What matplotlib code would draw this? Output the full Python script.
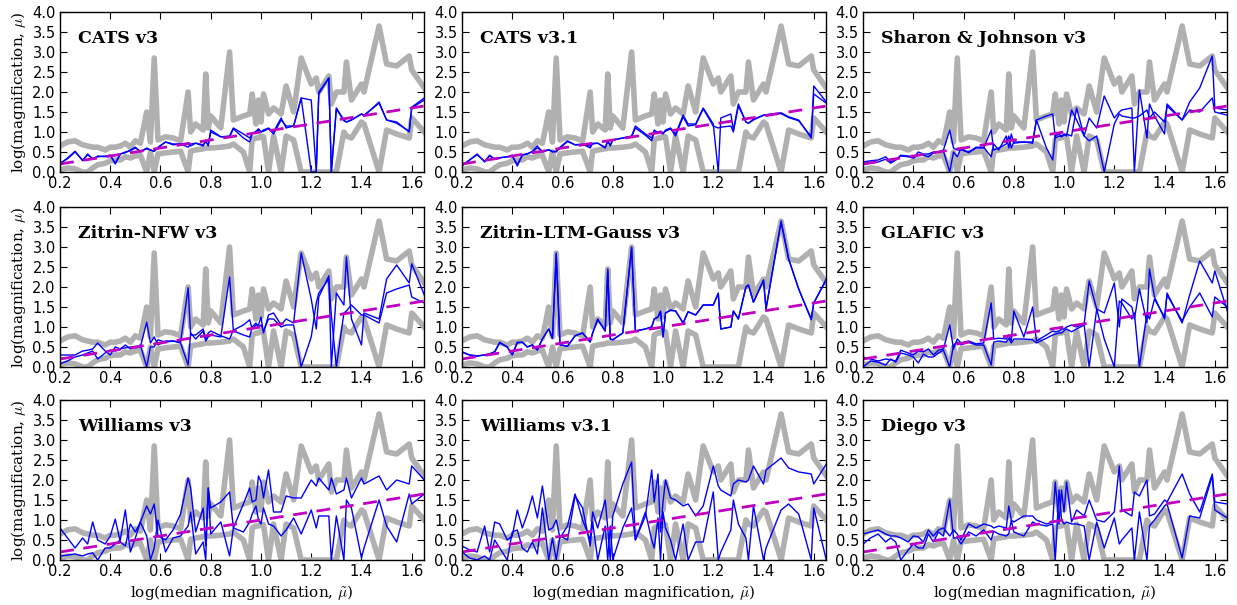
import numpy as np
import matplotlib
matplotlib.use('Agg')
import matplotlib.pyplot as plt

plt.rcParams['mathtext.fontset'] = 'cm'

# common x grid: log(median magnification)
x = [0.20, 0.23, 0.26, 0.29, 0.31, 0.33, 0.35, 0.38, 0.40, 0.42,
     0.44, 0.46, 0.48, 0.50, 0.52, 0.545, 0.56, 0.575, 0.59, 0.62,
     0.65, 0.68, 0.71, 0.72, 0.74, 0.77, 0.78, 0.79, 0.80, 0.84,
     0.875, 0.89, 0.93, 0.955, 0.965, 0.98, 0.99, 1.00, 1.01, 1.03,
     1.05, 1.08, 1.10, 1.13, 1.16, 1.20, 1.22, 1.23, 1.27, 1.28,
     1.30, 1.33, 1.34, 1.36, 1.40, 1.41, 1.47, 1.50, 1.54, 1.59,
     1.60, 1.65]

# grey envelope (same in every panel)
grey_hi = [0.65, 0.75, 0.78, 0.68, 0.65, 0.62, 0.62, 0.55, 0.62, 0.62,
           0.65, 0.72, 0.62, 0.78, 0.72, 1.5, 0.75, 2.85, 0.8, 0.88,
           0.85, 0.78, 2.0, 1.0, 1.2, 1.05, 2.45, 1.1, 1.4, 1.1,
           3.0, 1.3, 1.4, 1.45, 1.95, 1.2, 1.8, 1.25, 1.95, 1.45,
           1.6, 1.45, 2.15, 1.5, 2.85, 2.2, 2.35, 2.0, 2.4, 1.7,
           2.0, 2.0, 2.75, 1.8, 2.2, 2.0, 3.65, 2.7, 2.65, 2.9,
           2.55, 2.1]
grey_lo = [0.05, 0.1, 0.08, 0.0, 0.0, 0.1, 0.18, 0.22, 0.28, 0.3,
           0.3, 0.38, 0.35, 0.4, 0.42, 0.0, 0.5, 0.0, 0.45, 0.48,
           0.5, 0.52, 0.0, 0.52, 0.55, 0.58, 0.6, 0.6, 0.6, 0.62,
           0.65, 0.7, 0.5, 0.0, 0.8, 0.85, 0.85, 0.9, 0.88, 0.0,
           0.9, 0.0, 0.9, 0.8, 0.0, 0.0, 0.0, 0.0, 0.0, 0.0,
           0.0, 1.0, 0.9, 0.85, 1.25, 1.2, 0.0, 1.05, 0.95, 0.85,
           1.35, 1.0]

names = ['CATS v3', 'CATS v3.1', 'Sharon & Johnson v3',
         'Zitrin-NFW v3', 'Zitrin-LTM-Gauss v3', 'GLAFIC v3',
         'Williams v3', 'Williams v3.1', 'Diego v3']

cats3_a = [0.2, 0.35, 0.52, 0.28, 0.45, 0.32, 0.4, 0.38, 0.42, 0.2,
           0.45, 0.48, 0.55, 0.62, 0.5, 0.6, 0.55, 0.52, 0.6, 0.75,
           0.68, 0.7, 0.72, 0.65, 0.72, 0.65, 0.8, 0.65, 1.05, 0.88,
           0.9, 1.1, 0.95, 0.85, 0.95, 1.0, 1.08, 1.0, 1.05, 1.1,
           1.0, 1.35, 1.1, 1.15, 1.85, 1.8, 0.0, 2.0, 2.35, 0.0,
           1.6, 1.3, 1.25, 1.3, 1.45, 1.4, 1.75, 1.3, 1.25, 1.0,
           1.6, 1.8]
cats3_b = [0.22, 0.33, 0.5, 0.3, 0.43, 0.34, 0.38, 0.4, 0.42, 0.22,
           0.45, 0.5, 0.53, 0.6, 0.52, 0.58, 0.55, 0.52, 0.62, 0.75,
           0.7, 0.7, 0.62, 0.7, 0.72, 0.68, 0.75, 0.68, 1.0, 0.88,
           0.88, 1.08, 0.85, 0.75, 0.95, 1.02, 1.05, 1.0, 1.02, 1.08,
           0.95, 1.3, 1.15, 1.15, 1.85, 0.0, 0.0, 1.95, 2.35, 0.0,
           1.58, 1.28, 1.25, 1.3, 1.45, 1.42, 1.72, 1.3, 1.22, 1.02,
           1.62, 1.85]

cats31_a = [0.15, 0.3, 0.45, 0.25, 0.42, 0.32, 0.35, 0.38, 0.42, 0.15,
            0.42, 0.45, 0.52, 0.65, 0.5, 0.55, 0.52, 0.5, 0.62, 0.78,
            0.68, 0.68, 0.65, 0.7, 0.72, 0.6, 0.78, 0.65, 0.8, 0.85,
            0.9, 1.15, 0.95, 0.85, 1.05, 0.98, 1.0, 0.95, 1.05, 1.1,
            0.95, 1.42, 1.2, 1.2, 1.6, 1.2, 0.0, 1.35, 1.45, 1.05,
            1.7, 1.25, 1.22, 1.3, 1.42, 1.43, 1.48, 1.38, 1.3, 0.85,
            2.15, 1.75]
cats31_b = [0.17, 0.3, 0.43, 0.27, 0.4, 0.33, 0.36, 0.38, 0.4, 0.18,
            0.43, 0.46, 0.5, 0.6, 0.52, 0.56, 0.5, 0.52, 0.6, 0.76,
            0.68, 0.7, 0.6, 0.72, 0.72, 0.62, 0.75, 0.68, 0.8, 0.85,
            0.88, 1.1, 0.92, 0.78, 1.0, 1.0, 1.02, 0.98, 1.02, 1.08,
            0.9, 1.38, 1.15, 1.18, 1.58, 1.15, 1.1, 1.12, 1.15, 1.0,
            1.65, 1.25, 1.22, 1.32, 1.42, 1.43, 1.46, 1.36, 1.28, 0.88,
            1.95, 1.72]

sharon_a = [0.25, 0.28, 0.3, 0.38, 0.25, 0.3, 0.42, 0.4, 0.35, 0.5,
            0.45, 0.45, 0.5, 0.5, 0.55, 1.05, 0.6, 0.55, 0.55, 0.5,
            0.62, 0.62, 0.38, 0.7, 0.55, 0.9, 0.6, 0.95, 0.72, 0.75,
            0.75, 1.3, 1.4, 1.45, 0.85, 0.9, 0.88, 0.92, 0.95, 0.9,
            1.6, 0.9, 1.35, 1.1, 1.9, 1.35, 1.5, 1.55, 1.6, 0.0,
            2.05, 0.85, 1.7, 1.4, 0.95, 1.7, 1.3, 1.75, 2.1, 2.9,
            1.6, 1.55]
sharon_b = [0.2, 0.22, 0.25, 0.32, 0.22, 0.3, 0.4, 0.38, 0.35, 0.42,
            0.42, 0.38, 0.48, 0.5, 0.52, 0.0, 0.5, 0.38, 0.6, 0.48,
            0.6, 0.6, 1.05, 0.55, 0.6, 0.7, 0.9, 0.6, 0.75, 0.75,
            0.72, 1.3, 0.6, 0.3, 0.9, 0.95, 0.9, 0.95, 0.9, 1.55,
            1.3, 0.9, 0.78, 0.9, 0.0, 1.2, 1.45, 1.4, 1.35, 1.35,
            1.4, 1.55, 1.35, 1.5, 1.25, 1.65, 1.3, 1.55, 1.5, 1.85,
            1.5, 1.42]

nfw_a = [0.3, 0.3, 0.3, 0.4, 0.42, 0.45, 0.6, 0.4, 0.3, 0.5,
         0.45, 0.55, 0.45, 0.5, 0.55, 0.0, 0.5, 0.5, 0.68, 0.62,
         0.65, 0.62, 1.98, 0.8, 0.8, 0.95, 0.7, 0.85, 0.9, 0.78,
         0.7, 0.92, 1.05, 1.18, 0.95, 1.05, 1.05, 1.25, 0.85, 1.3,
         1.35, 1.05, 1.2, 1.1, 2.85, 1.7, 0.95, 1.75, 2.28, 0.0,
         1.85, 1.55, 2.75, 1.2, 0.55, 1.35, 1.2, 2.2, 2.55, 2.1,
         2.58, 1.8]
nfw_b = [0.08, 0.15, 0.25, 0.3, 0.35, 0.4, 0.2, 0.35, 0.42, 0.4,
         0.45, 0.48, 0.5, 0.48, 0.5, 1.12, 0.6, 0.75, 0.55, 0.65,
         0.65, 0.6, 0.05, 0.85, 0.7, 0.9, 0.65, 0.75, 0.8, 0.75,
         2.25, 0.9, 0.8, 0.75, 1.0, 1.1, 1.0, 1.05, 0.9, 1.2,
         1.2, 1.0, 1.05, 1.05, 0.0, 0.75, 1.6, 1.85, 2.2, 1.3,
         0.0, 1.35, 1.4, 1.55, 1.3, 1.3, 1.1, 1.85, 1.95, 2.05,
         1.75, 1.6]

ltm_a = [0.38, 0.3, 0.27, 0.3, 0.33, 0.38, 0.62, 0.5, 0.3, 0.62,
         0.62, 0.5, 0.55, 0.42, 0.7, 0.95, 0.72, 2.85, 0.55, 0.52,
         0.78, 0.85, 0.62, 0.85, 1.2, 0.9, 2.45, 0.7, 0.68, 0.85,
         3.0, 0.9, 0.95, 1.0, 1.2, 1.25, 1.4, 0.75, 1.35, 1.42,
         1.4, 1.1, 1.38, 1.3, 1.55, 1.55, 1.85, 0.95, 1.0, 1.4,
         1.2, 2.0, 2.05, 1.62, 2.18, 1.45, 3.65, 2.7, 1.95, 1.18,
         1.6, 2.2]
ltm_b = [0.37, 0.3, 0.28, 0.3, 0.33, 0.38, 0.6, 0.5, 0.31, 0.6,
         0.62, 0.5, 0.55, 0.43, 0.7, 0.95, 0.72, 2.82, 0.56, 0.52,
         0.78, 0.85, 0.63, 0.85, 1.18, 0.9, 2.42, 0.7, 0.68, 0.85,
         2.98, 0.9, 0.95, 1.0, 1.2, 1.25, 1.38, 0.76, 1.35, 1.42,
         1.4, 1.1, 1.38, 1.3, 1.55, 1.55, 1.83, 0.95, 1.0, 1.4,
         1.2, 2.0, 2.05, 1.62, 2.16, 1.45, 3.62, 2.7, 1.95, 1.2,
         1.6, 2.18]

glafic_a = [0.25, 0.2, 0.15, 0.2, 0.18, 0.15, 0.42, 0.35, 0.3, 0.4,
            0.38, 0.45, 0.3, 0.42, 0.45, 1.05, 0.45, 0.7, 0.6, 0.65,
            0.58, 0.6, 1.6, 0.7, 0.72, 0.7, 0.8, 0.65, 1.4, 0.75,
            1.5, 0.65, 0.8, 0.9, 0.88, 0.9, 0.95, 0.95, 1.0, 1.05,
            1.0, 1.08, 2.15, 1.45, 1.35, 2.1, 1.0, 1.7, 1.5, 1.2,
            1.95, 1.1, 2.45, 1.75, 1.2, 1.85, 1.1, 1.8, 2.65, 2.1,
            2.4, 1.4]
glafic_b = [0.0, 0.15, 0.12, 0.05, 0.2, 0.12, 0.35, 0.3, 0.25, 0.1,
            0.32, 0.25, 0.25, 0.35, 0.42, 0.0, 0.55, 0.62, 0.55, 0.62,
            0.55, 0.55, 0.05, 0.62, 0.65, 0.62, 0.72, 0.6, 0.7, 0.7,
            0.68, 0.6, 0.72, 0.8, 0.82, 0.85, 0.85, 0.9, 0.95, 0.88,
            0.95, 1.05, 0.0, 1.45, 0.7, 0.0, 1.65, 1.6, 1.2, 1.35,
            0.0, 1.35, 1.2, 1.7, 1.25, 1.8, 1.15, 1.5, 1.85, 1.25,
            1.75, 1.5]

will3_a = [0.8, 0.55, 0.3, 0.55, 0.4, 0.95, 0.5, 0.4, 0.6, 1.02,
           0.45, 0.35, 0.9, 0.7, 0.95, 1.35, 1.15, 1.4, 0.6, 0.5,
           0.75, 1.15, 2.05, 1.8, 0.7, 1.3, 0.35, 1.8, 1.3, 1.45,
           1.7, 0.8, 1.4, 1.8, 1.45, 1.5, 2.1, 1.95, 1.55, 2.25,
           1.2, 1.2, 1.6, 1.55, 1.55, 2.0, 1.85, 2.05, 1.75, 2.05,
           1.65, 1.75, 2.05, 1.55, 2.05, 1.9, 2.1, 1.75, 2.0, 1.9,
           2.35, 2.0]
will3_b = [0.1, 0.12, 0.15, 0.1, 0.15, 0.18, 0.0, 0.3, 0.3, 0.4,
           0.5, 1.25, 0.2, 0.55, 0.95, 0.6, 0.0, 0.3, 1.0, 0.2,
           0.55, 0.6, 0.85, 1.2, 0.15, 0.45, 0.0, 1.8, 0.65, 0.95,
           0.1, 0.8, 0.7, 0.95, 1.15, 1.35, 1.0, 0.9, 1.3, 0.9,
           0.85, 0.6, 0.75, 1.05, 0.65, 1.25, 0.8, 1.1, 1.1, 0.0,
           1.1, 0.0, 1.5, 1.3, 0.05, 0.3, 1.5, 0.85, 0.45, 1.65,
           1.4, 1.65]

will31_a = [0.35, 0.25, 0.2, 0.85, 0.2, 0.95, 0.9, 0.5, 0.6, 1.25,
            0.8, 1.15, 1.6, 1.05, 1.85, 0.75, 0.8, 1.0, 0.55, 0.85,
            1.65, 1.0, 0.5, 1.2, 0.8, 1.5, 0.8, 0.0, 1.1, 1.9,
            2.45, 0.5, 1.1, 2.25, 1.45, 2.15, 0.7, 1.45, 2.0, 1.55,
            1.5, 1.35, 1.4, 1.1, 1.35, 2.35, 1.85, 1.75, 1.6, 1.9,
            2.0, 1.95, 2.0, 2.35, 1.9, 2.25, 2.55, 2.3, 2.2, 2.15,
            1.9, 2.4]
will31_b = [0.2, 0.05, 0.0, 0.1, 0.0, 0.5, 0.3, 0.0, 0.7, 0.75,
            0.3, 0.2, 0.45, 0.15, 1.3, 0.0, 0.55, 0.0, 0.6, 0.5,
            1.6, 1.3, 0.35, 0.95, 0.0, 0.85, 0.0, 0.85, 0.0, 0.8,
            1.3, 0.5, 1.2, 0.5, 0.3, 1.05, 0.0, 1.2, 0.8, 0.5,
            0.0, 0.9, 0.0, 0.45, 0.45, 1.7, 0.0, 0.2, 0.75, 1.5,
            0.9, 0.55, 0.0, 1.35, 0.0, 0.3, 1.25, 1.4, 1.15, 0.0,
            1.3, 0.0]

diego_a = [0.65, 0.7, 0.75, 0.65, 0.6, 0.6, 0.55, 0.45, 0.6, 0.58,
           0.45, 0.75, 0.6, 0.75, 0.8, 0.6, 0.75, 0.65, 0.5, 0.9,
           0.8, 0.9, 0.85, 0.8, 0.85, 0.8, 1.35, 1.0, 0.95, 1.1,
           1.1, 1.0, 0.9, 0.95, 1.95, 0.9, 1.75, 1.2, 1.95, 0.95,
           1.25, 1.1, 1.5, 1.0, 0.95, 1.2, 2.35, 1.25, 1.1, 1.7,
           1.6, 2.0, 1.1, 1.15, 1.5, 1.45, 2.15, 1.65, 1.2, 2.15,
           1.45, 1.4]
diego_b = [0.4, 0.55, 0.65, 0.45, 0.55, 0.45, 0.0, 0.25, 0.4, 0.3,
           0.3, 0.65, 0.45, 0.7, 0.6, 1.5, 0.55, 0.55, 0.4, 0.7,
           0.6, 0.75, 0.5, 0.72, 0.65, 0.6, 0.65, 1.0, 0.7, 0.6,
           0.95, 0.9, 0.85, 0.9, 0.0, 1.75, 1.0, 0.9, 0.95, 0.9,
           0.9, 0.85, 0.0, 0.95, 0.3, 1.05, 0.4, 0.5, 0.8, 0.0,
           1.2, 0.0, 0.85, 1.0, 1.35, 1.4, 0.05, 1.1, 1.05, 2.1,
           1.25, 1.05]

lines_a = [cats3_a, cats31_a, sharon_a, nfw_a, ltm_a, glafic_a, will3_a, will31_a, diego_a]
lines_b = [cats3_b, cats31_b, sharon_b, nfw_b, ltm_b, glafic_b, will3_b, will31_b, diego_b]

# one-to-one line
diag = [0.2, 1.65]

fig = plt.figure(figsize=(12.37, 6.05), dpi=100)
lefts = [0.0485, 0.3735, 0.6977]
bottoms = [0.7157, 0.3934, 0.0744]
w = 0.2945
h = 0.2645

for i in range(9):
    r = i // 3
    c = i % 3
    ax = fig.add_axes([lefts[c], bottoms[r], w, h])
    ax.plot(x, grey_hi, color='#b0b0b0', lw=4, solid_joinstyle='round')
    ax.plot(x, grey_lo, color='#b0b0b0', lw=4, solid_joinstyle='round')
    ax.plot(x, lines_a[i], color='#0000ff', lw=1)
    ax.plot(x, lines_b[i], color='#0000ff', lw=1)
    ax.plot(diag, diag, color='#c000c0', lw=2, ls=(0, (5, 3.5)))
    ax.set_xlim(0.2, 1.65)
    ax.set_ylim(0, 4)
    ax.set_xticks(np.arange(0.2, 1.61, 0.2))
    ax.set_yticks(np.arange(0, 4.01, 0.5))
    ax.xaxis.set_major_formatter(matplotlib.ticker.FormatStrFormatter('%.1f'))
    ax.yaxis.set_major_formatter(matplotlib.ticker.FormatStrFormatter('%.1f'))
    ax.tick_params(direction='in', top=True, right=True, labelsize=10.5, length=5, width=0.8, pad=3)
    for s in ax.spines.values():
        s.set_linewidth(1)
    ax.text(0.05, 0.89, names[i], transform=ax.transAxes, va='top', ha='left',
            fontsize=12.5, fontweight='bold', family='DejaVu Serif')
    if c == 0:
        ax.set_ylabel(r'log(magnification, $\mu$)', family='DejaVu Serif', fontsize=11, labelpad=3)
    if r == 2:
        ax.set_xlabel(r'log(median magnification, $\tilde{\mu}$)', family='DejaVu Serif', fontsize=11, labelpad=3)

fig.savefig('out.png', dpi=100)
